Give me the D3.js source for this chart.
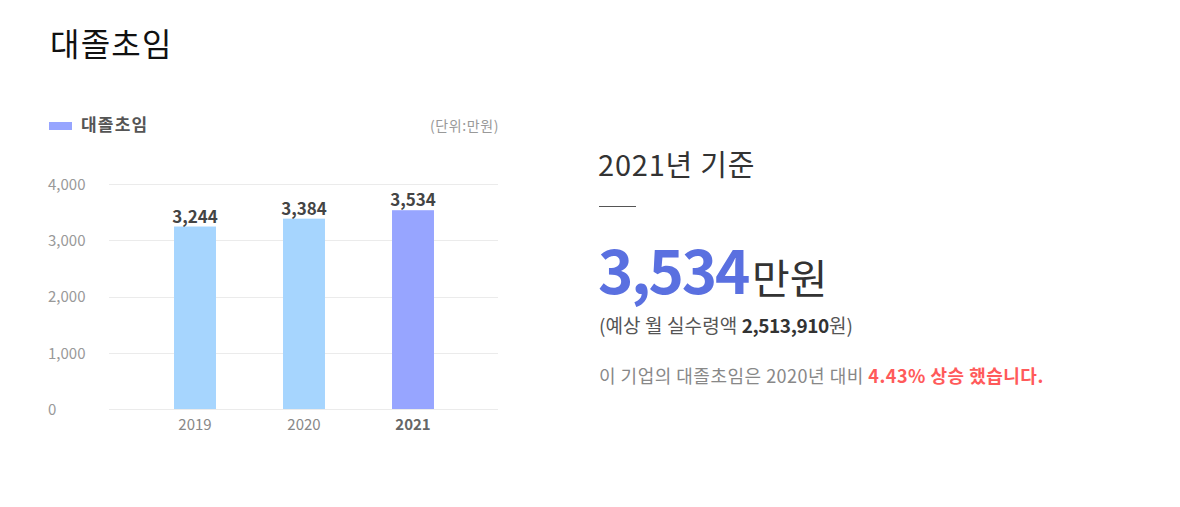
<!DOCTYPE html>
<html><head><meta charset="utf-8">
<script src="https://cdn.jsdelivr.net/npm/d3@7"></script>
<style>
body{margin:0;background:#fff;font-family:"Noto Sans CJK KR","Noto Sans",sans-serif;}
svg text{font-family:"Noto Sans CJK KR","Noto Sans",sans-serif;}
</style></head>
<body>
<svg id="c" width="1180" height="507"></svg>
<script>
const years = ["2019","2020","2021"];
const salaries = [3244, 3384, 3534];
const yTicks = [0, 1000, 2000, 3000, 4000];
const highlightYear = "2021";
const title = "대졸초임";
const unitLabel = "(단위:만원)";
const monthlyNet = "2,513,910";
const growthPct = "4.43%";

const svg = d3.select("#c");
const fmt = d3.format(",");

// title
svg.append("text").attr("x", 50).attr("y", 56).attr("font-size", 32).attr("fill", "#111")
  .attr("letter-spacing", 1.2).text(title);

// legend
svg.append("rect").attr("x", 49).attr("y", 122).attr("width", 23).attr("height", 8).attr("fill", "#97a5ff");
svg.append("text").attr("x", 81).attr("y", 131).attr("font-size", 17).attr("font-weight", 700)
  .attr("letter-spacing", 1.2).attr("fill", "#555").text(title);
svg.append("text").attr("x", 499).attr("y", 131).attr("font-size", 14).attr("fill", "#999")
  .attr("letter-spacing", 0.6).attr("text-anchor", "end").text(unitLabel);

// scales
const y = d3.scaleLinear().domain([0, 4000]).range([409, 184]);
const x = d3.scaleBand().domain(years).range([140.5, 467.5]).paddingInner(0.615).paddingOuter(0.3075);

// grid
svg.append("g").selectAll("line").data(yTicks).join("line")
  .attr("x1", 109).attr("x2", 498)
  .attr("y1", d => Math.round(y(d)) + 0.5).attr("y2", d => Math.round(y(d)) + 0.5)
  .attr("stroke", "#ebebeb").attr("stroke-width", 1);

// y axis labels
const yAxis = d3.axisLeft(y).tickValues(yTicks).tickFormat(fmt).tickSize(0);
const gy = svg.append("g").attr("transform", "translate(48,0)").call(yAxis);
gy.select(".domain").remove();
gy.selectAll("text").attr("text-anchor", "start").attr("x", 0).attr("font-size", 15)
  .attr("fill", "#999").attr("dy", "0.35em");

// x axis labels
const xAxis = d3.axisBottom(x).tickSize(0);
const gx = svg.append("g").attr("transform", "translate(0,416)").call(xAxis);
gx.select(".domain").remove();
gx.selectAll("text").attr("font-size", 15).attr("dy", "0.7em")
  .attr("fill", d => d === highlightYear ? "#666" : "#888")
  .attr("font-weight", d => d === highlightYear ? 700 : 400);

// bars
const data = years.map((yr, i) => ({year: yr, value: salaries[i]}));
svg.append("g").selectAll("rect").data(data).join("rect")
  .attr("x", d => x(d.year)).attr("width", x.bandwidth())
  .attr("y", d => y(d.value)).attr("height", d => y(0) - y(d.value))
  .attr("fill", d => d.year === highlightYear ? "#97a5ff" : "#a6d5fe");

// value labels
svg.append("g").selectAll("text").data(data).join("text")
  .attr("x", d => x(d.year) + x.bandwidth() / 2).attr("y", d => y(d.value) - 4)
  .attr("text-anchor", "middle").attr("font-size", 17).attr("font-weight", 700)
  .attr("fill", "#444").text(d => fmt(d.value));

// right panel
const last = salaries[salaries.length - 1];
svg.append("text").attr("x", 598).attr("y", 176).attr("font-size", 29).attr("fill", "#333")
  .attr("letter-spacing", 0.8).text(highlightYear + "년 기준");
svg.append("line").attr("x1", 599).attr("x2", 636).attr("y1", 206.5).attr("y2", 206.5)
  .attr("stroke", "#555").attr("stroke-width", 1);
const big = svg.append("text").attr("x", 598).attr("y", 294);
big.append("tspan").attr("font-size", 60).attr("font-weight", 700).attr("fill", "#5a70e0")
  .attr("letter-spacing", -2.2).text(fmt(last));
big.append("tspan").attr("font-size", 41).attr("fill", "#333").attr("dx", 4).attr("letter-spacing", 0).text("만원");

const sub = svg.append("text").attr("x", 599).attr("y", 333).attr("font-size", 19)
  .attr("letter-spacing", 0.1).attr("fill", "#555");
sub.append("tspan").text("(예상 월 실수령액 ");
sub.append("tspan").attr("font-weight", 700).attr("fill", "#333").attr("letter-spacing", -0.4).text(monthlyNet);
sub.append("tspan").attr("letter-spacing", 0.1).text("원)");

const note = svg.append("text").attr("x", 599).attr("y", 383).attr("font-size", 18)
  .attr("letter-spacing", 0.5).attr("fill", "#888");
note.append("tspan").text("이 기업의 " + title + "은 " + years[1] + "년 대비 ");
note.append("tspan").attr("font-weight", 700).attr("fill", "#ff5a5a").text(growthPct + " 상승 했습니다.");
</script>
</body></html>
